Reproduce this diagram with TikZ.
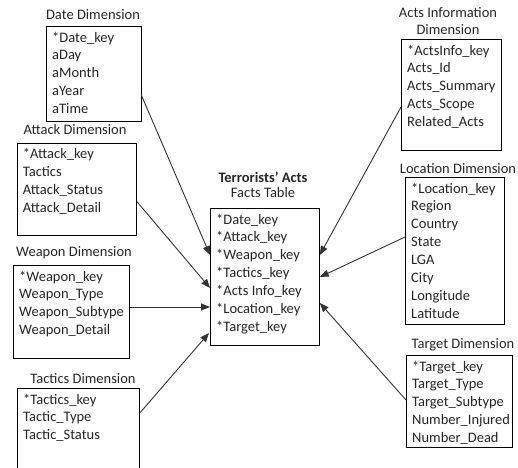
\documentclass[tikz,border=0pt]{standalone}
\usepackage{fontspec}
\setmainfont{Carlito}
\usetikzlibrary{calc,arrows.meta}
\tikzset{
  boxst/.style={draw=black, line width=0.8pt, rectangle, inner sep=0pt, fill=white},
  itemst/.style={inner sep=0pt, font=\fontsize{14.5}{17.8}\selectfont, text=black!85},
  titlest/.style={inner sep=0pt, font=\fontsize{14.5}{17.8}\selectfont, text=black!85},
  arr/.style={line width=0.9pt, draw=black!80, -{Triangle[length=9pt,width=7pt]}}
}
\newcommand\dimbox[6]{%
  \node[boxst, minimum width=#4pt, minimum height=#5pt, anchor=north west] (#1) at (#2,#3) {};
  \foreach \t [count=\i] in {#6} {
    \node[itemst, anchor=base west] (#1-\i) at ($(#1.north west)+(6,16+17.9*\i-17.9)$) {\t};
  }
}
\begin{document}
\begin{tikzpicture}[x=1pt,y=-1pt]
\useasboundingbox (0,0) rectangle (518,467);

% titles
\node[titlest] (tdate) at (93,15) {Date Dimension};
\node[titlest] (tattack) at (75,130) {Attack Dimension};
\node[titlest] (tweapon) at (74,253) {Weapon Dimension};
\node[titlest] (ttactics) at (83,379) {Tactics Dimension};
\node[titlest, font=\fontsize{14.5}{17.8}\selectfont\bfseries] (tfact1) at (263,177) {Terrorists’ Acts};
\node[titlest] (tfact2) at (263,193) {Facts Table};
\node[titlest] (tacts1) at (448,13) {Acts Information};
\node[titlest] (tacts2) at (448,30) {Dimension};
\node[titlest] (tloc) at (458,169) {Location Dimension};
\node[titlest] (ttarget) at (463,345) {Target Dimension};

% boxes
\dimbox{date}{46}{26}{94.5}{95}{*Date\_key,aDay,aMonth,aYear,aTime}
\dimbox{attack}{16.7}{142.7}{119.5}{92.5}{*Attack\_key,Tactics,Attack\_Status,Attack\_Detail}
\dimbox{weapon}{13}{265}{116}{93}{*Weapon\_key,Weapon\_Type,Weapon\_Subtype,Weapon\_Detail}
\dimbox{tactics}{17}{388}{122}{90}{*Tactics\_key,Tactic\_Type,Tactic\_Status}
\dimbox{fact}{210}{208}{109}{137}{*Date\_key,*Attack\_key,*Weapon\_key,*Tactics\_key,*Acts Info\_key,*Location\_key,*Target\_key}
\dimbox{acts}{401}{39}{99.5}{111}{*ActsInfo\_key,Acts\_Id,Acts\_Summary,Acts\_Scope,Related\_Acts}
\dimbox{loc}{405}{177}{99}{147}{*Location\_key,Region,Country,State,LGA,City,Longitude,Latitude}
\dimbox{target}{406}{355}{106}{92}{*Target\_key,Target\_Type,Target\_Subtype,Number\_Injured,Number\_Dead}

% connectors
\draw[arr] ($(date.north east)+(0,69)$) -- ($(fact.north west)+(0,47)$);
\draw[arr] ($(attack.north east)+(0,59)$) -- ($(fact.north west)+(0,80)$);
\draw[arr] ($(weapon.north east)+(0,42)$) -- ($(fact.north west)+(0,99)$);
\draw[arr] ($(tactics.north east)+(0,25)$) -- ($(fact.north west)+(-1,125)$);
\draw[arr] ($(acts.north west)+(0,68)$) -- ($(fact.north east)+(0,47)$);
\draw[arr] ($(loc.north west)+(0,60)$) -- ($(fact.north east)+(0,69)$);
\draw[arr] ($(target.north west)+(0,45)$) -- ($(fact.north east)+(0,95)$);
\end{tikzpicture}
\end{document}
